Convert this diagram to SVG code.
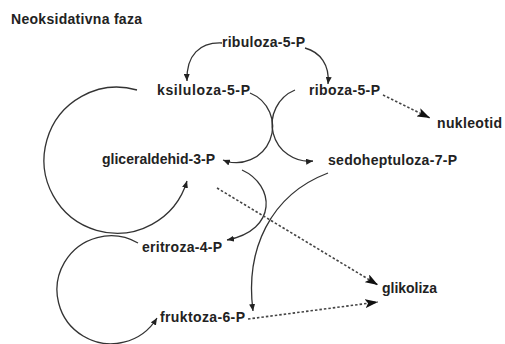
<svg xmlns="http://www.w3.org/2000/svg" width="505" height="344" viewBox="0 0 505 344">
<style>
text{font-family:"Liberation Sans",Arial,sans-serif;font-weight:bold;font-size:14px;fill:#222}
.s{fill:none;stroke:#333;stroke-width:1.3}
.d{fill:none;stroke:#444;stroke-width:1.6;stroke-dasharray:2.5 2}
</style>
<defs>
<marker id="a" markerUnits="userSpaceOnUse" markerWidth="8" markerHeight="6" refX="7" refY="3" orient="auto"><path d="M0,0 L7,3 L0,6 z" fill="#222"/></marker>
<marker id="b" markerUnits="userSpaceOnUse" markerWidth="14" markerHeight="9" refX="13" refY="4.5" orient="auto"><path d="M0,0 L13,4.5 L0,9 L3,4.5 z" fill="#111"/></marker>
</defs>
<rect width="505" height="344" fill="#fff"/>
<text x="11" y="24" textLength="131" font-size="13">Neoksidativna faza</text>
<g id="connectors">
<path class="s" d="M222,43 C200,42 186,55 187,81" marker-end="url(#a)"/>
<path class="s" d="M305,48 C320,52 330,65 328,84" marker-end="url(#a)"/>
<path class="s" d="M250,93 A36,36 0 0 1 223,160" marker-end="url(#a)"/>
<path class="s" d="M295,90 A37,37 0 0 0 313,161" marker-end="url(#a)"/>
<path class="s" d="M242,170 C275,185 278,230 227,240" marker-end="url(#a)"/>
<path class="s" d="M328,173 C270,195 245,250 253,311" marker-end="url(#a)"/>
<path class="s" d="M137,90 A73,73 0 1 0 187,181" marker-end="url(#a)"/>
<path class="s" d="M138,243 A54,54 0 1 0 157,318" marker-end="url(#a)"/>
<path class="d" d="M383,95 L430,118" marker-end="url(#b)"/>
<path class="d" d="M217,188 L378,285" marker-end="url(#b)"/>
<path class="d" d="M248,319 L378,302" marker-end="url(#b)"/>
</g>
<g id="ribuloza"><text x="222" y="47" textLength="83">ribuloza-5-P</text></g>
<g id="ksiluloza"><text x="157" y="95" textLength="93">ksiluloza-5-P</text></g>
<g id="riboza"><text x="309" y="95" textLength="71">riboza-5-P</text></g>
<g id="nukleotid"><text x="437" y="128" textLength="65">nukleotid</text></g>
<g id="gliceraldehid"><text x="102" y="164" textLength="113">gliceraldehid-3-P</text></g>
<g id="sedoheptuloza"><text x="328" y="165" textLength="129">sedoheptuloza-7-P</text></g>
<g id="eritroza"><text x="142" y="252" textLength="80">eritroza-4-P</text></g>
<g id="fruktoza"><text x="160" y="322" textLength="85">fruktoza-6-P</text></g>
<g id="glikoliza"><text x="382" y="293" textLength="55">glikoliza</text></g>
</svg>
